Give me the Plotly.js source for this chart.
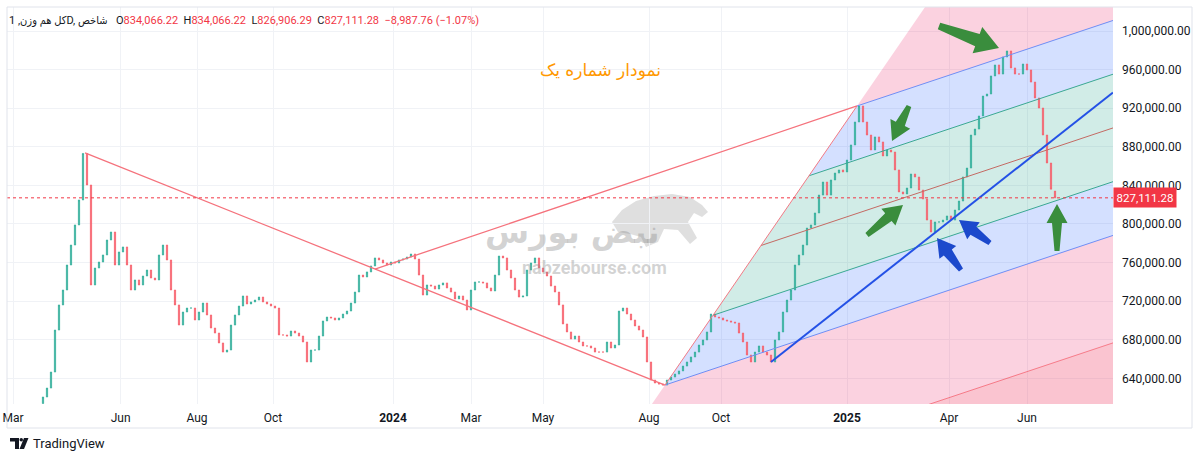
<!DOCTYPE html>
<html><head><meta charset="utf-8">
<script src="https://cdn.plot.ly/plotly-3.0.1.min.js"></script>
<style>html,body{margin:0;padding:0;background:#fff}#chart{width:1200px;height:460px}</style>
</head><body><div id="chart"></div>
<script>
// ---------- DATA ----------
const closes = [
620700, 630000, 646600, 690100, 716100, 731600, 757500, 778200, 799000, 824900,
873100, 840400, 736800, 754400, 760600, 767900, 783400, 791700, 757500, 771000,
776200, 757500, 731600, 742000, 736800, 746100, 752300, 744000, 742000, 767900,
778200, 762700, 731600, 716100, 695300, 708800, 712900, 712900, 700500, 708800,
718100, 705700, 692200, 687000, 676700, 667300, 669400, 695300, 705700, 715000,
725400, 717100, 719200, 721200, 724300, 719200, 717100, 715000, 712900, 685000,
685000, 683900, 689100, 687000, 683900, 677700, 657000, 669400, 669400, 683900,
699500, 703600, 702600, 700500, 702600, 706700, 709800, 718100, 729500, 747100,
745100, 750300, 756500, 764800, 762700, 759600, 757500, 760600, 759600, 762700,
763700, 765800, 768900, 763700, 747100, 726400, 736800, 735700, 732600, 736800,
738900, 733700, 729500, 722300, 725400, 721200, 710900, 731600, 739900, 739900,
738900, 733700, 730600, 747100, 766800, 764800, 752300, 744000, 731600, 724300,
725400, 752300, 759600, 764800, 754400, 750300, 746100, 735700, 729500, 716100,
696400, 688100, 680800, 683900, 677700, 673600, 673600, 671500, 667300, 667300,
667300, 677700, 671500, 674600, 709800, 712900, 706700, 700500, 694300, 690100,
682900, 657000, 638300, 635200, 634200, 633100, 638300, 641400, 644500, 647700,
652800, 657000, 662200, 667300, 674600, 679800, 688100, 706700, 703600, 702600,
700500, 699500, 698400, 697400, 687000, 677700, 664200, 657000, 667300, 673600,
667300, 664200, 657000, 679800, 688100, 708800, 721200, 731600, 757500, 767900,
778200, 795800, 799000, 811400, 830000, 843500, 830000, 845600, 852800, 856000,
853900, 866300, 881900, 905700, 922300, 905700, 892200, 876700, 890200, 885000,
870500, 876700, 874600, 856000, 833200, 831100, 837300, 851800, 848700, 835200,
825900, 804100, 791700, 802100, 802100, 804100, 808300, 804100, 814500, 823800,
848700, 858000, 892200, 898400, 911900, 932600, 934700, 953400, 964800, 955400,
973100, 979300, 961700, 955400, 955400, 965800, 959600, 947100, 930600, 920200,
892200, 863200, 836099.04, 827111.28
];
const firstOpen = 614000;
const lastOpen = 834066.22;
const lastHigh = 834066.22;
const lastLow = 826906.29;
const lastClose = 827111.28;
const lastChange = -8987.76;
const lastChangePct = -1.07;

const tickBars = [-7.5, 19.4, 38.5, 57.5, 87.5, 107, 125, 151.5, 169.5, 201, 226.5, 246];
const tickLabels = ['Mar', 'Jun', 'Aug', 'Oct', '<b>2024</b>', 'Mar', 'May', 'Aug', 'Oct', '<b>2025</b>', 'Apr', 'Jun'];
const priceTicks = [640000, 680000, 720000, 760000, 800000, 840000, 880000, 920000, 960000, 1000000];

const symbolText = 'کل هم وزن, 1D, شاخص';
const titleText = 'نمودار شماره یک';
const brandFa = 'نبض بورس';
const brandEn = 'nabzebourse.com';

// drawing anchors (bar index, price)
const wedgeTop = [10.5, 873600];
const pfLow = [155.5, 633100];
const pfHigh = [203.5, 922300];
const pfSlope = 1384.5;          // price per bar of the fork lines
const wedgeUpperStartBar = 83;
const trendFrom = [182, 657000];
const trendTo = [267.5, 936300];

// ---------- GEOMETRY ----------
const M = {l: 7, r: 87, t: 7, b: 56};
const PW = 1200 - M.l - M.r, PH = 460 - M.t - M.b;
const xRange = [-9, 267.5];
const yRange = [613460, 1024871];
const px2bar = px => xRange[0] + (px - M.l) / PW * (xRange[1] - xRange[0]);
const py2price = py => yRange[1] - (py - M.t) / PH * (yRange[1] - yRange[0]);
const pxPaper = px => (px - M.l) / PW;
const pyPaper = py => (M.t + PH - py) / PH;

// ---------- OHLC ----------
const n = closes.length;
const xs = [], O = [], Hh = [], L = [], C = [];
for (let i = 0; i < n; i++) {
  const op = i === 0 ? firstOpen : (i === n - 1 ? lastOpen : closes[i - 1]);
  const cl = closes[i];
  xs.push(i); O.push(op); C.push(cl);
  Hh.push(i === n - 1 ? lastHigh : Math.max(op, cl));
  L.push(i === n - 1 ? lastLow : Math.min(op, cl));
}
const fmt = v => Math.abs(v).toLocaleString('en-US', {minimumFractionDigits: 2, maximumFractionDigits: 2});

const trace = {
  type: 'candlestick', x: xs, open: O, high: Hh, low: L, close: C,
  increasing: {line: {color: '#2fae99', width: 0.7}, fillcolor: '#2fae99'},
  decreasing: {line: {color: '#f65c68', width: 0.7}, fillcolor: '#f65c68'},
  whiskerwidth: 0, hoverinfo: 'skip', showlegend: false
};

// ---------- SHAPES ----------
const shapes = [];
const lerp = f => [pfLow[0] + f * (pfHigh[0] - pfLow[0]), pfLow[1] + f * (pfHigh[1] - pfLow[1])];
const XEXT = 300;
const ext = p => [XEXT, p[1] + pfSlope * (XEXT - p[0])];
const P = pts => 'M' + pts.map(p => p[0] + ',' + p[1]).join('L') + 'Z';
function band(f0, f1, color) {
  const a = lerp(f0), b = lerp(f1);
  shapes.push({type: 'path', xref: 'x', yref: 'y', layer: 'between', path: P([a, b, ext(b), ext(a)]),
    fillcolor: color, line: {width: 0}});
}
band(-1, -0.5, 'rgba(240,60,100,0.30)');
band(-0.5, 0, 'rgba(233,30,99,0.20)');
band(0, 0.25, 'rgba(41,98,255,0.20)');
band(0.25, 0.75, 'rgba(8,153,129,0.19)');
band(0.75, 1, 'rgba(41,98,255,0.20)');
band(1, 1.5, 'rgba(233,30,99,0.20)');
function seg(a, b, color, width, layer, dash) {
  shapes.push({type: 'line', xref: 'x', yref: 'y', layer: layer || 'above',
    x0: a[0], y0: a[1], x1: b[0], y1: b[1], line: {color: color, width: width, dash: dash || 'solid'}});
}
const forkLines = [[-0.5, 'rgba(242,54,69,0.55)'], [0, '#6f8ef5'], [0.25, '#3aa893'], [0.5, '#c46a63'], [0.75, '#3aa893'], [1, '#6f8ef5']];
forkLines.forEach(([f, col]) => { const a = lerp(f); seg(a, ext(a), col, 1); });
seg(pfLow, pfHigh, '#f27a85', 1);
// wedge lines
seg(wedgeTop, pfLow, '#f5727c', 1.3);
const wSlope = (pfLow[1] - wedgeTop[1]) / (pfLow[0] - wedgeTop[0]);
const wStart = [wedgeUpperStartBar, wedgeTop[1] + wSlope * (wedgeUpperStartBar - wedgeTop[0])];
seg(wStart, pfHigh, '#f5727c', 1.3);
// blue trend line
seg(trendFrom, trendTo, '#2451e6', 2);
// last price dotted line
shapes.push({type: 'line', xref: 'paper', yref: 'y', x0: 0, x1: 1, y0: lastClose, y1: lastClose,
  line: {color: '#f23645', width: 1, dash: 'dot'}, layer: 'above'});

// arrows (tip, tail in screen px)
const arrows = [
  {tip: [999, 48], tail: [939, 26], color: '#3a8d3d', hl: 23, hw: 14, s1: 6.5, s2: 3.5},
  {tip: [892, 141], tail: [909, 106], color: '#3a8d3d', hl: 19, hw: 11, s1: 5, s2: 2.5},
  {tip: [903, 205], tail: [867, 235], color: '#3a8d3d', hl: 19, hw: 11, s1: 5, s2: 2.5},
  {tip: [1057, 204], tail: [1057, 251], color: '#3a8d3d', hl: 19, hw: 10.5, s1: 5, s2: 2.5},
  {tip: [937, 238], tail: [961, 270], color: '#1c49cc', hl: 18, hw: 10.5, s1: 5, s2: 2.5},
  {tip: [959, 220], tail: [990, 243], color: '#1c49cc', hl: 18, hw: 10.5, s1: 5, s2: 2.5}
];
arrows.forEach(a => {
  const dx = a.tip[0] - a.tail[0], dy = a.tip[1] - a.tail[1];
  const len = Math.hypot(dx, dy), ux = dx / len, uy = dy / len, nx = -uy, ny = ux;
  const hx = a.tip[0] - ux * a.hl, hy = a.tip[1] - uy * a.hl;
  const pts = [
    [a.tail[0] + nx * a.s2, a.tail[1] + ny * a.s2], [hx + nx * a.s1, hy + ny * a.s1], [hx + nx * a.hw, hy + ny * a.hw],
    a.tip, [hx - nx * a.hw, hy - ny * a.hw], [hx - nx * a.s1, hy - ny * a.s1], [a.tail[0] - nx * a.s2, a.tail[1] - ny * a.s2]
  ].map(p => [px2bar(p[0]), py2price(p[1])]);
  shapes.push({type: 'path', xref: 'x', yref: 'y', layer: 'above', path: P(pts), fillcolor: a.color, line: {width: 0}});
});

// watermark bull (screen px)
const bull = [[612,222],[622,210],[636,201],[654,196],[672,194],[690,197],[702,205],[708,212],[702,217],[694,213],[688,222],[697,238],[690,244],[678,230],[664,229],[658,242],[646,247],[641,237],[630,234],[618,232]];
shapes.push({type: 'path', xref: 'paper', yref: 'paper', layer: 'below',
  path: P(bull.map(p => [pxPaper(p[0]), pyPaper(p[1])])), fillcolor: 'rgba(150,150,150,0.30)', line: {width: 0}});

// frame
shapes.push({type: 'rect', xref: 'paper', yref: 'paper', x0: pxPaper(7), x1: pxPaper(1192), y0: pyPaper(428), y1: pyPaper(7),
  line: {color: '#e0e3eb', width: 1}, layer: 'above'});
// TradingView logo mark
shapes.push({type: 'path', xref: 'paper', yref: 'paper', path: P([[10,438],[19,438],[19,449],[15,449],[15,441.5],[10,441.5]].map(p => [pxPaper(p[0]), pyPaper(p[1])])), fillcolor: '#131722', line: {width: 0}});
shapes.push({type: 'circle', xref: 'paper', yref: 'paper', x0: pxPaper(19.5), x1: pxPaper(23), y0: pyPaper(441.5), y1: pyPaper(438), fillcolor: '#131722', line: {width: 0}});
shapes.push({type: 'path', xref: 'paper', yref: 'paper', path: P([[24,438],[28.5,438],[24,449],[19.5,449]].map(p => [pxPaper(p[0]), pyPaper(p[1])])), fillcolor: '#131722', line: {width: 0}});

// ---------- ANNOTATIONS ----------
const red = s => '<span style="color:#f23645">' + s + '</span>';
const sp = '\u00a0\u00a0';
const ohlcText = 'O' + red(fmt(lastOpen)) + sp + 'H' + red(fmt(lastHigh)) + sp + 'L' + red(fmt(lastLow)) + sp + 'C' + red(fmt(lastClose)) + sp +
  red('\u2212' + fmt(lastChange) + ' (\u2212' + Math.abs(lastChangePct).toFixed(2) + '%)');
const annotations = [
  {xref: 'paper', yref: 'paper', x: pxPaper(110), y: pyPaper(20), xanchor: 'right', yanchor: 'middle', showarrow: false,
    text: symbolText, font: {family: 'Roboto, DejaVu Sans Condensed, DejaVu Sans', size: 11, color: '#131722'}},
  {xref: 'paper', yref: 'paper', x: pxPaper(114), y: pyPaper(20), xanchor: 'left', yanchor: 'middle', showarrow: false,
    text: ohlcText, font: {family: 'Roboto', size: 11, color: '#131722'}},
  {xref: 'paper', yref: 'paper', x: pxPaper(600), y: pyPaper(70), xanchor: 'center', yanchor: 'middle', showarrow: false,
    text: titleText, font: {family: 'DejaVu Sans', size: 17, color: '#ff9800'}},
  {xref: 'paper', yref: 'paper', x: pxPaper(572), y: pyPaper(232), xanchor: 'center', yanchor: 'middle', showarrow: false,
    text: '<b>' + brandFa + '</b>', font: {family: 'DejaVu Sans', size: 32, color: 'rgba(140,140,140,0.38)'}},
  {xref: 'paper', yref: 'paper', x: pxPaper(594), y: pyPaper(267), xanchor: 'center', yanchor: 'middle', showarrow: false,
    text: '<b>' + brandEn + '</b>', font: {family: 'Roboto', size: 18, color: 'rgba(140,140,140,0.38)'}},
  {xref: 'paper', yref: 'y', x: 1, y: lastClose, xanchor: 'left', yanchor: 'middle', showarrow: false,
    text: fmt(lastClose), bgcolor: '#f23645', borderpad: 2.5, font: {family: 'Roboto', size: 11.5, color: '#ffffff'}},
  {xref: 'paper', yref: 'paper', x: pxPaper(31), y: pyPaper(443.5), xanchor: 'left', yanchor: 'middle', showarrow: false,
    text: 'TradingView', font: {family: 'Roboto', size: 13, color: '#131722'}}
];

const layout = {
  width: 1200, height: 460, margin: M, paper_bgcolor: '#ffffff', plot_bgcolor: '#ffffff',
  showlegend: false, boxgap: 0.55, dragmode: false,
  xaxis: {range: xRange, tickmode: 'array', tickvals: tickBars, ticktext: tickLabels, showgrid: true, gridcolor: '#f0f2f6',
    zeroline: false, showline: false, ticks: '', ticklabelstandoff: 5, rangeslider: {visible: false},
    tickfont: {family: 'Roboto', size: 12, color: '#131722'}, fixedrange: true},
  yaxis: {range: yRange, side: 'right', tickmode: 'array', tickvals: priceTicks, ticktext: priceTicks.map(fmt),
    showgrid: true, gridcolor: '#f0f2f6', zeroline: false, showline: false, ticks: '', ticklabelstandoff: 8,
    tickfont: {family: 'Roboto', size: 12, color: '#131722'}, fixedrange: true},
  shapes: shapes, annotations: annotations
};
Plotly.newPlot('chart', [trace], layout, {staticPlot: true, displayModeBar: false});
</script></body></html>
